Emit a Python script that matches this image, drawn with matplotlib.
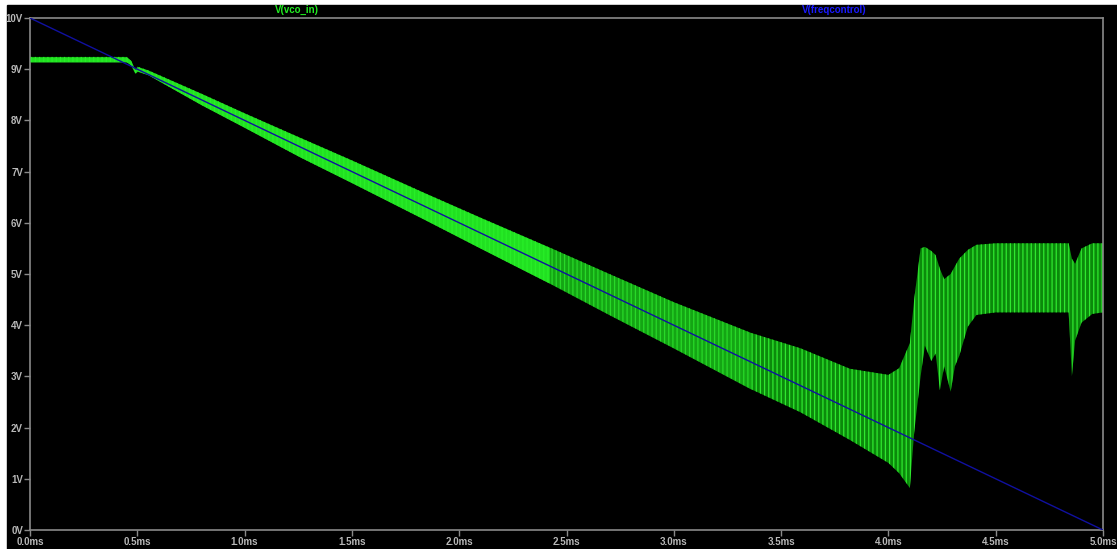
import matplotlib.pyplot as plt
import matplotlib.patches as patches
import numpy as np

# envelope of V(vco_in) (time in ms, volts)
t_ms = [0.0, 0.45, 0.47, 0.49, 0.50, 0.55, 0.80, 1.00, 1.26, 1.50, 1.84, 2.10,
        2.42, 2.70, 3.00, 3.36, 3.59, 3.82, 4.00, 4.05, 4.10, 4.12, 4.15, 4.17,
        4.20, 4.22, 4.24, 4.26, 4.29, 4.31, 4.33, 4.37, 4.41, 4.50, 4.84, 4.855,
        4.87, 4.90, 4.95, 5.00]
vco_hi = [9.24, 9.24, 9.17, 8.98, 9.05, 8.98, 8.52, 8.14, 7.66, 7.22, 6.58, 6.10,
          5.52, 5.00, 4.45, 3.85, 3.55, 3.15, 3.03, 3.16, 3.65, 4.50, 5.50, 5.53,
          5.45, 5.37, 5.10, 4.90, 5.00, 5.15, 5.30, 5.47, 5.57, 5.60, 5.60, 5.30,
          5.20, 5.50, 5.60, 5.60]
vco_lo = [9.14, 9.14, 9.08, 8.92, 8.96, 8.89, 8.30, 7.86, 7.28, 6.78, 6.06, 5.50,
          4.82, 4.20, 3.55, 2.75, 2.30, 1.76, 1.31, 1.11, 0.82, 1.90, 3.00, 3.60,
          3.30, 3.45, 2.73, 3.20, 2.70, 3.20, 3.40, 3.97, 4.20, 4.25, 4.25, 3.00,
          3.70, 4.05, 4.22, 4.25]

# V(freqcontrol) ramp
freq_t = [0.0, 5.0]
freq_v = [10.0, 0.0]

xticks = [0.0, 0.5, 1.0, 1.5, 2.0, 2.5, 3.0, 3.5, 4.0, 4.5, 5.0]
yticks = list(range(0, 11))

plt.rcParams['hatch.linewidth'] = 0.9
plt.rcParams['font.family'] = ['Liberation Sans', 'DejaVu Sans']

fig = plt.figure(figsize=(11.17, 5.49), dpi=100)
fig.patch.set_facecolor('white')
# black plot window
fig.patches.append(patches.Rectangle((7/1117, 0), 1 - 7/1117, 1 - 5/549,
                                     transform=fig.transFigure, color='black', zorder=-10))

ax = fig.add_axes([30/1117, 1 - 530/549, 1073/1117, 512/549])
ax.set_facecolor('black')
ax.set_zorder(5)

t = np.array(t_ms)
hi = np.array(vco_hi)
lo = np.array(vco_lo)

# whole band: dark green with bright vertical strokes
ax.fill_between(t, lo, hi, facecolor='#0b8a0b', edgecolor='#2fe82f',
                hatch='||||', linewidth=0, zorder=2)
# brighter, denser part of the oscillation early on
early = t <= 2.42
ax.fill_between(t[early], lo[early], hi[early], color='#26f026', alpha=0.85,
                linewidth=0, zorder=3)
mid = (t >= 2.42) & (t <= 3.36)
ax.fill_between(t[mid], lo[mid], hi[mid], color='#20c820', alpha=0.45,
                linewidth=0, zorder=3)

ax.plot(freq_t, freq_v, color='#1010a0', lw=1.0, zorder=4)

ax.set_xlim(0, 5)
ax.set_ylim(0, 10)
ax.set_xticks(xticks)
ax.set_xticklabels(['%.1fms' % x for x in xticks])
ax.set_yticks(yticks)
ax.set_yticklabels(['%dV' % y for y in yticks])

for s in ax.spines.values():
    s.set_color('#8a8a8a')
    s.set_linewidth(1.2)
ax.tick_params(colors='#8a8a8a', length=4, width=1, direction='out', pad=1)
for lab in ax.get_xticklabels() + ax.get_yticklabels():
    lab.set_color('#b8b8b8')
    lab.set_fontsize(7)
    lab.set_fontweight('bold')

fig.text(297/1117, 1 - 10/549, 'V(vco_in)', color='#22ee22', fontsize=7,
         fontweight='bold', ha='center', va='center')
fig.text(834/1117, 1 - 10/549, 'V(freqcontrol)', color='#1a1aff', fontsize=7,
         fontweight='bold', ha='center', va='center')

fig.savefig('out.png', dpi=100, facecolor=fig.get_facecolor())
